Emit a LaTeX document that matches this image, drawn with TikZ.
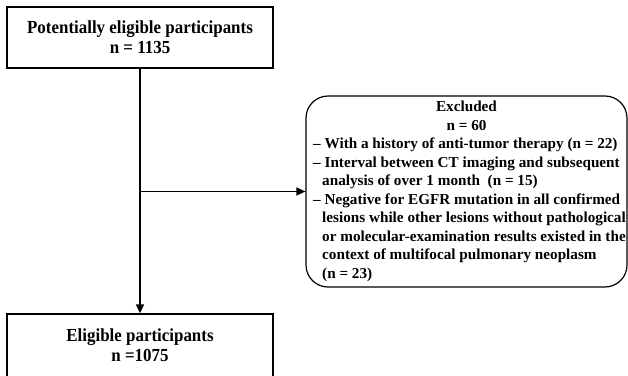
\documentclass[tikz,border=0pt]{standalone}
\usepackage{fontspec}
\setmainfont{Liberation Serif}
\newfontfamily\stagefont{Liberation Serif}[FakeStretch=0.92]
\usetikzlibrary{arrows.meta}
\newcommand{\contln}{\hspace*{9pt}}
\begin{document}
\begin{tikzpicture}[x=1pt,y=-1pt,
  stage/.style={draw,line width=1.3pt,minimum width=266pt,align=center,font=\stagefont\fontsize{18.4}{20}\selectfont\bfseries},
  exclbox/.style={draw,line width=1.2pt,rounded corners=22pt,minimum width=321pt,minimum height=191pt,inner sep=0pt,font=\fontsize{15.2}{18.5}\selectfont\bfseries},
  flow/.style={line width=1.6pt,-{Triangle[length=9pt,width=8pt]}}]
\useasboundingbox (0,0) rectangle (628,375);
\node[stage,minimum height=61pt] (pot) at (140,37.5) {Potentially eligible participants\\ n = 1135};
\node[stage,minimum height=63pt] (elig) at (140,345.5) {Eligible participants\\ n =1075};
\node[exclbox] (excl) at (466.5,191.5) {\begin{tabular}{@{\hspace{6pt}}l@{}}
  \multicolumn{1}{@{}c@{}}{\rule{0pt}{\dimexpr0.7\baselineskip+8pt\relax}Excluded}\\
  \multicolumn{1}{@{}c@{}}{n = 60}\\
  -- With a history of anti-tumor therapy (n = 22)\\
  -- Interval between CT imaging and subsequent\\
  \contln analysis of over 1 month~ (n = 15)\\
  -- Negative for EGFR mutation in all confirmed\\
  \contln lesions while other lesions without pathological\\
  \contln or molecular-examination results existed in the\\
  \contln context of multifocal pulmonary neoplasm\\
  \contln (n = 23)
\end{tabular}};
% split point on the main line
\coordinate (split) at (pot.south |- excl.west);
\draw[flow] (pot.south) -- (elig.north);
\draw[flow] (split) -- (excl.west);
\end{tikzpicture}
\end{document}
